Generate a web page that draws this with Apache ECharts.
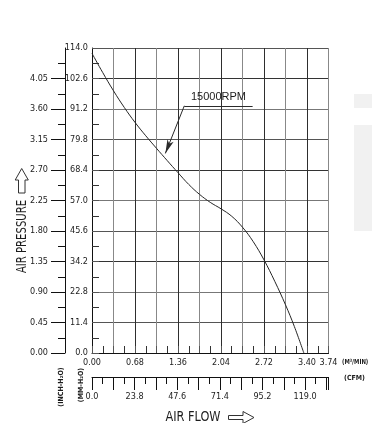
<!DOCTYPE html>
<html><head><meta charset="utf-8">
<script src="https://cdn.jsdelivr.net/npm/echarts@6/dist/echarts.min.js"></script>
<style>html,body{margin:0;padding:0;background:#fff}#c{width:372px;height:423px}</style>
</head><body><div id="c"></div>
<script>
// ---- data ----
const flowM3 = [0, 0.17, 0.34, 0.51, 0.68, 0.85, 1.02, 1.19, 1.36, 1.53, 1.70, 1.87, 2.04, 2.21, 2.38, 2.55, 2.72, 2.89, 3.06, 3.20, 3.35];
const pressureMM = [112.0, 104.8, 98.0, 91.8, 86.2, 81.2, 76.5, 71.9, 67.4, 63.0, 59.3, 56.3, 53.9, 51.1, 47.0, 41.6, 34.8, 26.8, 18.0, 9.9, 0];
const seriesName = '15000RPM';
const flowTicksM3 = { min: 0, max: 3.74, step: 0.34 };
const flowTicksCFM = { min: 0, max: 132.08, step: 11.9, labelStep: 23.8 };
const pressTicksMM = { min: 0, max: 114, step: 11.4 };
const pressTicksIN = { min: 0, max: 4.5, step: 0.45 };
const pressTickValuesIN = [0, 0.45, 0.9, 1.35, 1.8, 2.25, 2.7, 3.15, 3.6, 4.05];
const rpmUnderline = [[1.46, 92.4], [2.54, 92.4]];
const rpmArrow = [[1.46, 92.4], [1.16, 74.6]];

const FONT = "'Liberation Sans Narrow','DejaVu Sans Condensed',sans-serif";
const TXT = '#1c1c1c';
const chart = echarts.init(document.getElementById('c'), null, { renderer: 'canvas' });

const pts = flowM3.map((x, i) => [x, pressureMM[i]]);

chart.setOption({
  animation: false,
  backgroundColor: '#fff',
  grid: { left: 92, right: 43.5, top: 48, bottom: 70, containLabel: false },
  xAxis: [
    {
      type: 'value', min: flowTicksM3.min, max: flowTicksM3.max, interval: flowTicksM3.step, position: 'bottom',
      axisLine: { show: true, onZero: false, lineStyle: { color: '#111', width: 1 } },
      axisTick: { show: true, inside: true, length: 7, lineStyle: { color: '#555' } },
      minorTick: { show: true, splitNumber: 2, length: 7, lineStyle: { color: '#333', width: 1 } },
      splitLine: { show: true, lineStyle: { color: ['#2e2e2e', '#888'], width: 1 } },
      minorSplitLine: { show: false },
      axisLabel: {
        margin: 5, fontSize: 9, fontFamily: FONT, color: TXT,
        formatter: (v, i) => (i % 2 === 0 || Math.abs(v - flowTicksM3.max) < 1e-6) ? v.toFixed(2) : ''
      }
    },
    {
      type: 'value', min: flowTicksCFM.min, max: flowTicksCFM.max, interval: flowTicksCFM.step, position: 'bottom', offset: 24,
      axisLine: { show: true, onZero: false, lineStyle: { color: '#111', width: 1 } },
      axisTick: { show: true, length: 13, lineStyle: { color: '#111' } },
      minorTick: { show: true, splitNumber: 2, length: 7, lineStyle: { color: '#111', width: 1 } },
      splitLine: { show: false },
      axisLabel: {
        margin: 15, fontSize: 9, fontFamily: FONT, color: TXT, showMaxLabel: false,
        formatter: (v) => {
          const r = v / flowTicksCFM.labelStep;
          return Math.abs(r - Math.round(r)) < 1e-6 ? v.toFixed(1) : '';
        }
      }
    }
  ],
  yAxis: [
    {
      type: 'value', min: pressTicksMM.min, max: pressTicksMM.max, interval: pressTicksMM.step, position: 'left',
      axisLine: { show: true, onZero: false, lineStyle: { color: '#111', width: 1 } },
      axisTick: { show: true, inside: true, length: 7, lineStyle: { color: '#555' } },
      minorTick: { show: true, splitNumber: 2, length: 7, lineStyle: { color: '#333', width: 1 } },
      splitLine: { show: true, lineStyle: { color: ['#333', '#555', '#777'], width: 1 } },
      axisLabel: { margin: 4, fontSize: 9, fontFamily: FONT, color: TXT, formatter: v => v.toFixed(1) }
    },
    {
      type: 'value', min: pressTicksIN.min, max: pressTicksIN.max, interval: pressTicksIN.step, position: 'left', offset: 27,
      axisLine: { show: true, onZero: false, lineStyle: { color: '#111', width: 1 } },
      axisTick: { show: true, length: 14, lineStyle: { color: '#111' }, customValues: pressTickValuesIN },
      minorTick: { show: true, splitNumber: 2, length: 7, lineStyle: { color: '#111', width: 1 } },
      splitLine: { show: false },
      axisLabel: { margin: 17, fontSize: 9, fontFamily: FONT, color: TXT,
        formatter: v => v >= pressTicksIN.max - 1e-6 ? '' : v.toFixed(2) }
    }
  ],
  series: [{
    name: seriesName, type: 'line', xAxisIndex: 0, yAxisIndex: 0,
    data: pts, showSymbol: false, smooth: 0.4, z: 5,
    lineStyle: { color: '#262626', width: 1 },
    markLine: {
      silent: true, symbol: ['none', 'none'], animation: false,
      lineStyle: { color: '#2a2a2a', width: 1, type: 'solid' },
      label: { show: false },
      emphasis: { disabled: true },
      data: [
        [
          { coord: rpmUnderline[0], label: { show: true, formatter: seriesName, position: 'middle', distance: 3,
              fontSize: 11, fontFamily: "'Liberation Sans',Arial,sans-serif", color: TXT } },
          { coord: rpmUnderline[1] }
        ],
        [
          { coord: rpmArrow[0], symbol: 'none' },
          { coord: rpmArrow[1], symbol: 'arrow', symbolSize: [5, 14] }
        ]
      ]
    }
  }],
  graphic: [
    { type: 'rect', shape: { x: 354, y: 94, width: 18, height: 14 }, style: { fill: '#f1f1f1' }, silent: true },
    { type: 'rect', shape: { x: 354, y: 125, width: 18, height: 106 }, style: { fill: '#f1f1f1' }, silent: true },
    { type: 'text', x: 22, y: 236.5, rotation: Math.PI / 2, scaleX: 0.8,
      style: { text: 'AIR PRESSURE', font: '14px ' + FONT, fill: TXT, textAlign: 'center', textVerticalAlign: 'middle' } },
    { type: 'polygon', shape: { points: [[21.7, 168.5], [28.3, 180], [25, 180], [25, 193], [18.5, 193], [18.5, 180], [15.2, 180]] },
      style: { fill: '#fff', stroke: '#333', lineWidth: 1 } },
    { type: 'text', x: 193, y: 417, scaleX: 0.9,
      style: { text: 'AIR FLOW', font: '14px ' + FONT, fill: TXT, textAlign: 'center', textVerticalAlign: 'middle' } },
    { type: 'polygon', shape: { points: [[228.5, 415.5], [243, 415.5], [243, 411.5], [254, 417.5], [243, 423.5], [243, 419.5], [228.5, 419.5]] },
      style: { fill: '#fff', stroke: '#333', lineWidth: 1 } },
    { type: 'text', x: 342, y: 362, scaleX: 0.85,
      style: { text: '(M³/MIN)', font: 'bold 7px ' + FONT, fill: TXT, textAlign: 'left', textVerticalAlign: 'middle' } },
    { type: 'text', x: 344, y: 378,
      style: { text: '(CFM)', font: 'bold 7px ' + FONT, fill: TXT, textAlign: 'left', textVerticalAlign: 'middle' } },
    { type: 'text', x: 61, y: 387, rotation: Math.PI / 2,
      style: { text: '(INCH-H₂O)', font: 'bold 7px ' + FONT, fill: TXT, textAlign: 'center', textVerticalAlign: 'middle' } },
    { type: 'text', x: 81, y: 385, rotation: Math.PI / 2,
      style: { text: '(MM-H₂O)', font: 'bold 7px ' + FONT, fill: TXT, textAlign: 'center', textVerticalAlign: 'middle' } }
  ]
});
</script>
</body></html>
